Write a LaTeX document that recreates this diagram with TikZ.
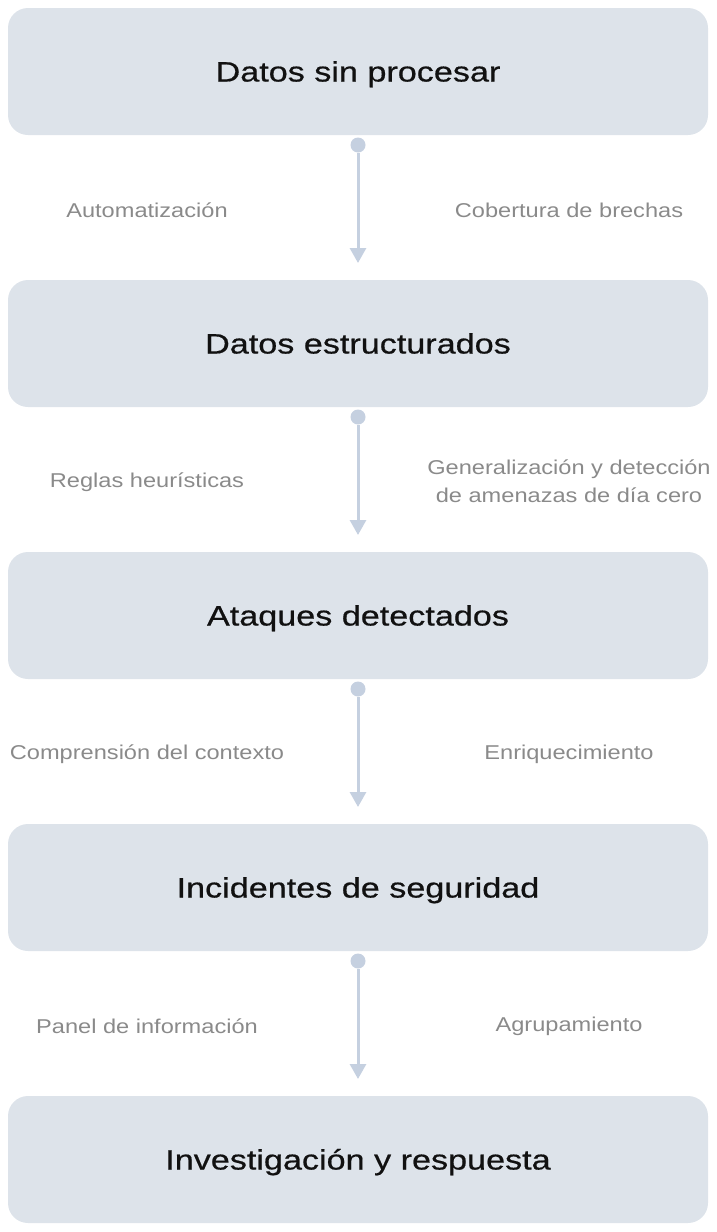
\documentclass[tikz,border=0pt]{standalone}
\usepackage{fontspec}
\setmainfont{Liberation Sans}[FakeStretch=1.18]
\newfontfamily\titlefont{Liberation Sans}[FakeStretch=1.22,FakeBold=0.6]
\usetikzlibrary{arrows.meta}
\definecolor{boxfill}{HTML}{DDE3EA}
\definecolor{arrowcol}{HTML}{C5D0E0}
\definecolor{labelcol}{HTML}{8A8A8A}
\definecolor{titlecol}{HTML}{111111}
\tikzset{
  stagebox/.style={fill=boxfill, rounded corners=20pt, minimum width=700pt, minimum height=127pt, inner sep=0pt, text height=20pt, text depth=0pt, text=titlecol, font=\titlefont\fontsize{28}{32}\selectfont},
  dotnode/.style={circle, fill=arrowcol, minimum size=15pt, inner sep=0pt},
  flowarrow/.style={draw=arrowcol, line width=3pt, -{Triangle[width=16pt,length=15pt]}},
  steplabel/.style={text=labelcol, font=\fontsize{20}{28}\selectfont, align=center, inner sep=0pt},
}
\begin{document}
\begin{tikzpicture}[x=1pt,y=-1pt]
\useasboundingbox (0,0) rectangle (716,1232);
\node[stagebox] (b1) at (358,71.5) {Datos sin procesar};
\node[stagebox] (b2) at (358,343.5) {Datos estructurados};
\node[stagebox] (b3) at (358,615.5) {Ataques detectados};
\node[stagebox] (b4) at (358,887.5) {Incidentes de seguridad};
\node[stagebox] (b5) at (358,1159.5) {Investigación y respuesta};
\foreach \i/\y in {1/145,2/417,3/689,4/961}{
  \node[dotnode] (d\i) at (358,\y) {};
  \coordinate (t\i) at (358,\y+118);
  \draw[flowarrow] (d\i) -- (t\i);
}
\node[steplabel] (l1a) at (147,210) {Automatización};
\node[steplabel] (l1b) at (569,210) {Cobertura de brechas};
\node[steplabel] (l2a) at (147,482) {Reglas heurísticas};
\node[steplabel] (l2b) at (569,481) {Generalización y detección\\de amenazas de día cero};
\node[steplabel] (l3a) at (147,754) {Comprensión del contexto};
\node[steplabel] (l3b) at (569,754) {Enriquecimiento};
\node[steplabel] (l4a) at (147,1026) {Panel de información};
\node[steplabel] (l4b) at (569,1026) {Agrupamiento};
\end{tikzpicture}
\end{document}
